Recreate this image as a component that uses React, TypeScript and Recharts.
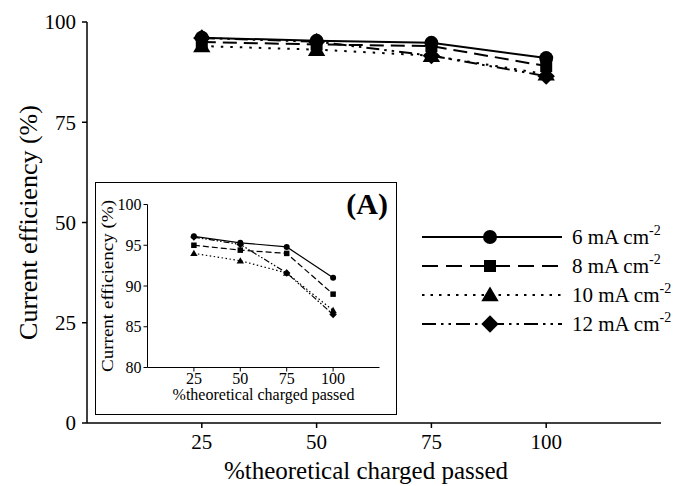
import React from 'react';
import { LineChart, Line, XAxis, YAxis, Legend, Label } from 'recharts';

// ---- data ----
const xPassed = [25, 50, 75, 100];
const eff6 = [96.1, 95.3, 94.8, 91.0];
const eff8 = [95.0, 94.4, 94.0, 89.0];
const eff10 = [94.0, 93.1, 91.6, 87.0];
const eff12 = [96.0, 95.1, 91.6, 86.5];
const seriesLabels = ['6 mA cm', '8 mA cm', '10 mA cm', '12 mA cm'];
const unitExp = '-2';
const xTicks = [25, 50, 75, 100];
const mainYTicks = [0, 25, 50, 75, 100];
const insetYTicks = [80, 85, 90, 95, 100];
const xTitle = '%theoretical charged passed';
const yTitle = 'Current efficiency (%)';
const panelTag = '(A)';

const data = xPassed.map((x, i) => ({ x, e6: eff6[i], e8: eff8[i], e10: eff10[i], e12: eff12[i] }));

const SERIF = "'Liberation Serif', 'Times New Roman', serif";

type Shape = 'circle' | 'square' | 'triangle' | 'diamond';
const series: { key: string; label: string; shape: Shape; dashMain: string; dashInset: string; dashLegend: string }[] = [
  { key: 'e6', label: seriesLabels[0], shape: 'circle', dashMain: '', dashInset: '', dashLegend: '' },
  { key: 'e8', label: seriesLabels[1], shape: 'square', dashMain: '14 7', dashInset: '6 3', dashLegend: '16 8' },
  { key: 'e10', label: seriesLabels[2], shape: 'triangle', dashMain: '2.5 7', dashInset: '1.5 2.5', dashLegend: '2.5 6' },
  { key: 'e12', label: seriesLabels[3], shape: 'diamond', dashMain: '13 5 2.5 5 2.5 5', dashInset: '6 2 1.5 2 1.5 2', dashLegend: '14 5 2.5 5 2.5 5' },
];

function Marker({ shape, cx, cy, s }: { shape: Shape; cx: number; cy: number; s: number }) {
  if (cx == null || cy == null) return null;
  switch (shape) {
    case 'circle':
      return <circle cx={cx} cy={cy} r={s / 2} fill="#000" />;
    case 'square':
      return <rect x={cx - s / 2} y={cy - s / 2} width={s} height={s} fill="#000" />;
    case 'triangle':
      return (
        <polygon
          points={`${cx},${cy - s * 0.6} ${cx + s * 0.62},${cy + s * 0.45} ${cx - s * 0.62},${cy + s * 0.45}`}
          fill="#000"
        />
      );
    default:
      return (
        <polygon
          points={`${cx},${cy - s * 0.62} ${cx + s * 0.62},${cy} ${cx},${cy + s * 0.62} ${cx - s * 0.62},${cy}`}
          fill="#000"
        />
      );
  }
}

const renderLegend = () => {
  const rowGap = 29;
  return (
    <svg width={265} height={125} style={{ display: 'block' }}>
      {series.map((s, i) => {
        const y = 15 + i * rowGap;
        return (
          <g key={s.key}>
            <line x1={7} x2={147} y1={y} y2={y} stroke="#000" strokeWidth={2} strokeDasharray={s.dashLegend || undefined} />
            <Marker shape={s.shape} cx={75} cy={y} s={s.shape === 'circle' ? 14 : s.shape === 'square' ? 12 : 14} />
            <text x={157} y={y + 7} fontFamily={SERIF} fontSize={21} fill="#000" style={{ fontFamily: SERIF }}>
              {s.label}
              <tspan dy={-9} fontSize={14}>{unitExp}</tspan>
            </text>
          </g>
        );
      })}
    </svg>
  );
};

export default function App() {
  const tickStyleMain = { fill: '#000', fontSize: 21, fontFamily: SERIF, style: { fontFamily: SERIF } };
  const tickStyleInset = { fill: '#000', fontSize: 16, fontFamily: SERIF, style: { fontFamily: SERIF } };
  return (
    <div style={{ position: 'absolute', left: 0, top: 0, width: 680, height: 486, background: '#fff', fontFamily: SERIF }}>
      <LineChart width={680} height={486} data={data} margin={{ top: 22, right: 19, left: 0, bottom: 0 }}>
        <XAxis
          dataKey="x"
          type="number"
          domain={[0, 125]}
          ticks={xTicks}
          height={63}
          tickSize={5}
          tickMargin={6}
          axisLine={{ stroke: '#000', strokeWidth: 1.5 }}
          tickLine={{ stroke: '#000', strokeWidth: 1.5 }}
          tick={tickStyleMain}
        >
          <Label
            content={(p: any) => {
              const vb = p.viewBox || { x: 87, y: 423, width: 574, height: 63 };
              return (
                <text x={vb.x + vb.width / 2 - 8} y={vb.y + vb.height - 7} textAnchor="middle" fontFamily={SERIF} fontSize={25} fill="#000">
                  {xTitle}
                </text>
              );
            }}
          />
        </XAxis>
        <YAxis
          type="number"
          domain={[0, 100]}
          ticks={mainYTicks}
          width={87}
          tickSize={5}
          tickMargin={6}
          axisLine={{ stroke: '#000', strokeWidth: 1.5 }}
          tickLine={{ stroke: '#000', strokeWidth: 1.5 }}
          tick={tickStyleMain}
        >
          <Label
            content={(p: any) => {
              const vb = p.viewBox || { x: 0, y: 22, width: 87, height: 401 };
              const cx = 37;
              const cy = vb.y + vb.height / 2;
              return (
                <text x={cx} y={cy} textAnchor="middle" transform={`rotate(-90, ${cx}, ${cy})`} fontFamily={SERIF} fontSize={26} fill="#000">
                  {yTitle}
                </text>
              );
            }}
          />
        </YAxis>
        {[...series].reverse().map((s) => (
          <Line
            key={s.key}
            dataKey={s.key}
            type="linear"
            stroke="#000"
            strokeWidth={2}
            strokeDasharray={s.dashMain || undefined}
            isAnimationActive={false}
            activeDot={false}
            dot={(p: any) => (
              <Marker key={`${s.key}-${p.index}`} shape={s.shape} cx={p.cx} cy={p.cy} s={s.shape === 'circle' ? 14 : s.shape === 'square' ? 12 : 14} />
            )}
          />
        ))}
        <Legend
          layout="vertical"
          align="center"
          verticalAlign="middle"
          content={renderLegend}
          wrapperStyle={{ position: 'absolute', left: 415, top: 222, width: 265, height: 125 }}
        />
      </LineChart>

      <div
        style={{
          position: 'absolute',
          left: 95,
          top: 182,
          width: 302,
          height: 233,
          border: '1.5px solid #000',
          boxSizing: 'border-box',
          background: '#fff',
        }}
      >
        <LineChart width={299} height={230} data={data} margin={{ top: 21.5, right: 15.5, left: 0, bottom: 0 }}>
          <XAxis
            dataKey="x"
            type="number"
            domain={[0, 125]}
            ticks={xTicks}
            height={45.5}
            tickSize={4}
            tickMargin={1}
            axisLine={{ stroke: '#000', strokeWidth: 1 }}
            tickLine={{ stroke: '#000', strokeWidth: 1 }}
            tick={tickStyleInset}
          >
            <Label
              content={(p: any) => {
                const vb = p.viewBox || { x: 51.5, y: 184.5, width: 232, height: 45.5 };
                return (
                  <text x={vb.x + vb.width / 2} y={vb.y + 32} textAnchor="middle" fontFamily={SERIF} fontSize={16} fill="#000">
                    {xTitle}
                  </text>
                );
              }}
            />
          </XAxis>
          <YAxis
            type="number"
            domain={[80, 100]}
            ticks={insetYTicks}
            width={51.5}
            tickSize={4}
            tickMargin={2}
            axisLine={{ stroke: '#000', strokeWidth: 1 }}
            tickLine={{ stroke: '#000', strokeWidth: 1 }}
            tick={tickStyleInset}
          >
            <Label
              content={(p: any) => {
                const vb = p.viewBox || { x: 0, y: 21.5, width: 51.5, height: 163 };
                const cx = 17;
                const cy = vb.y + vb.height / 2;
                return (
                  <text
                    x={cx}
                    y={cy}
                    textAnchor="middle"
                    transform={`rotate(-90, ${cx}, ${cy})`}
                    fontFamily={SERIF}
                    fontSize={16}
                    fill="#000"
                    textLength={172}
                    lengthAdjust="spacingAndGlyphs"
                  >
                    {yTitle}
                  </text>
                );
              }}
            />
          </YAxis>
          {[...series].reverse().map((s) => (
            <Line
              key={s.key}
              dataKey={s.key}
              type="linear"
              stroke="#000"
              strokeWidth={1.2}
              strokeDasharray={s.dashInset || undefined}
              isAnimationActive={false}
              activeDot={false}
              dot={(p: any) => (
                <Marker key={`${s.key}-${p.index}`} shape={s.shape} cx={p.cx} cy={p.cy} s={s.shape === 'circle' ? 6 : s.shape === 'square' ? 5.5 : 6} />
              )}
            />
          ))}
        </LineChart>
        <svg width={299} height={60} style={{ position: 'absolute', left: 0, top: 0, pointerEvents: 'none' }}>
          <text x={292} y={31} textAnchor="end" fontFamily={SERIF} fontWeight="bold" fontSize={30} fill="#000">
            {panelTag}
          </text>
        </svg>
      </div>
    </div>
  );
}
